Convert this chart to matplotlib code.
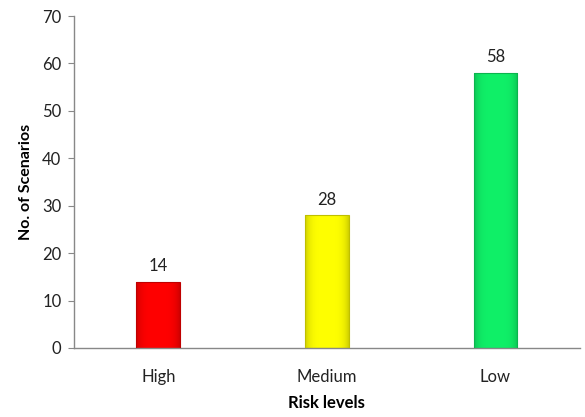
import matplotlib
matplotlib.use('Agg')
import matplotlib.pyplot as plt
import numpy as np
from matplotlib.colors import to_rgb

# Dati del grafico
categorie = ['High', 'Medium', 'Low']
scenari = [14, 28, 58]
colori = ['#ff0000', '#ffff00', '#10f068']

plt.rcParams['font.family'] = ['Lato', 'DejaVu Sans']

fig = plt.figure(figsize=(5.85, 4.17), dpi=100)
ax = fig.add_axes([0.1265, 0.1655, 0.8645, 0.7961])

x = np.arange(len(categorie))
larghezza = 0.26

# Barre con leggera sfumatura ai bordi
for xi, val, col in zip(x, scenari, colori):
    rgb = np.array(to_rgb(col))
    grad = np.linspace(0, 1, 60)
    shade = 1 - 0.18 * (np.abs(grad - 0.5) * 2) ** 4
    img = (rgb[None, :] * shade[:, None])[None, :, :]
    im = ax.imshow(img, extent=[xi - larghezza / 2, xi + larghezza / 2, 0, val],
                   aspect='auto', zorder=2, interpolation='bilinear')
    bar = ax.bar(xi, val, larghezza, color='none',
                 edgecolor=tuple(rgb * 0.75), linewidth=0.8, zorder=3)
    im.set_clip_path(bar[0])
    ax.text(xi, val + 1.6, str(val), ha='center', va='bottom', fontsize=12, color='#222222')

ax.set_xlim(-0.5, 2.5)
ax.set_ylim(0, 70)
ax.set_yticks(range(0, 71, 10))
ax.set_xticks(x)
ax.set_xticklabels(categorie)

for s in ['top', 'right']:
    ax.spines[s].set_visible(False)
for s in ['left', 'bottom']:
    ax.spines[s].set_color('#888888')
    ax.spines[s].set_linewidth(1)

ax.tick_params(axis='y', length=4, color='#888888', labelsize=12, labelcolor='#222222', pad=5)
ax.tick_params(axis='x', length=0, labelsize=12, labelcolor='#222222', pad=15)

ax.set_xlabel('Risk levels', fontsize=12, fontweight='bold', labelpad=7)
ax.set_ylabel('No. of Scenarios', fontsize=11.5, fontweight='bold', labelpad=7)

fig.savefig('out.png', dpi=100)
